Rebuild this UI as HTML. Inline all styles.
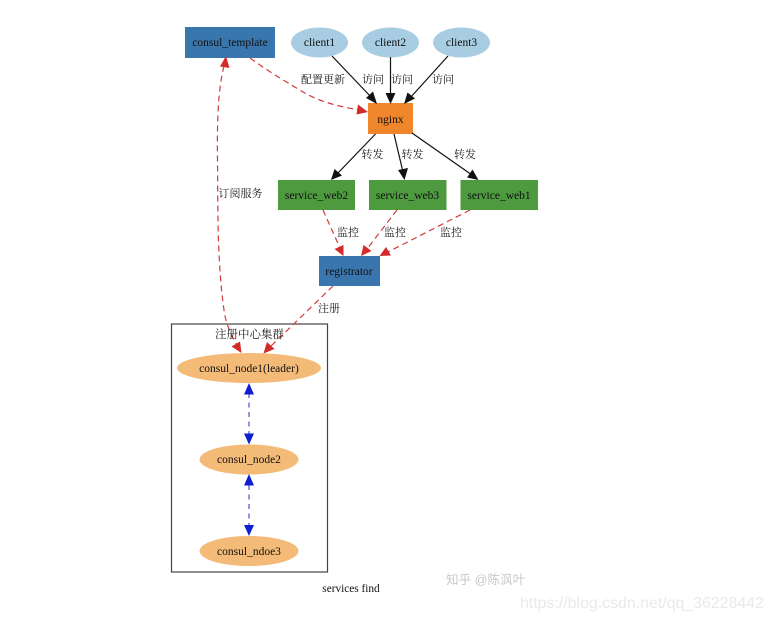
<!DOCTYPE html>
<html>
<head>
<meta charset="utf-8">
<style>
html,body{margin:0;padding:0;background:#fff;width:772px;height:621px;overflow:hidden}
svg{display:block;filter:blur(0.35px)}
.t{font-family:"Liberation Serif","Noto Serif CJK SC",serif;font-size:11.5px;fill:#111;text-anchor:middle}
.c{font-family:"Liberation Serif","Noto Serif CJK SC",serif;font-size:11px;fill:#1a1a1a;text-anchor:middle}
.k{fill:none;stroke:#111;stroke-width:1.2}
.r{fill:none;stroke:#d23a3a;stroke-width:1.2;stroke-dasharray:6 4}
.b{fill:none;stroke:#7a7ae0;stroke-width:1.6;stroke-dasharray:5 4.5}
</style>
</head>
<body>
<svg width="772" height="621" viewBox="0 0 772 621" xmlns="http://www.w3.org/2000/svg">
<rect width="772" height="621" fill="#fff"/>
<!-- cluster -->
<rect x="171.5" y="324" width="156" height="248" fill="none" stroke="#444" stroke-width="1.2"/>
<!-- nodes -->
<rect x="185" y="27" width="90" height="31" fill="#3a76ae"/>
<ellipse cx="319.5" cy="42.5" rx="28.5" ry="15" fill="#a8cde2"/>
<ellipse cx="390.5" cy="42.5" rx="28.5" ry="15" fill="#a8cde2"/>
<ellipse cx="461.5" cy="42.5" rx="28.5" ry="15" fill="#a8cde2"/>
<rect x="368" y="103" width="45" height="31" fill="#f0862c"/>
<rect x="278" y="180" width="77" height="30" fill="#4d9a3f"/>
<rect x="369" y="180" width="77.5" height="30" fill="#4d9a3f"/>
<rect x="460.5" y="180" width="77.5" height="30" fill="#4d9a3f"/>
<rect x="319" y="256" width="61" height="30" fill="#3a76ae"/>
<ellipse cx="249" cy="368" rx="72" ry="15" fill="#f4bb78"/>
<ellipse cx="249" cy="459.5" rx="49.5" ry="15" fill="#f4bb78"/>
<ellipse cx="249" cy="551" rx="49.5" ry="15" fill="#f4bb78"/>
<!-- black edges -->
<path class="k" d="M332 56L372 98"/><path d="M377 104L366 98L373 91.5Z" fill="#111"/>
<path class="k" d="M390.5 57V96"/><path d="M390.5 104L385.5 93H395.5Z" fill="#111"/>
<path class="k" d="M448 56L410 98"/><path d="M404 104L407.5 92.5L415 98.5Z" fill="#111"/>
<path class="k" d="M375.5 134L337 174"/><path d="M331 180L334.5 169L342 175.5Z" fill="#111"/>
<path class="k" d="M394 134L403 172"/><path d="M404.5 180L398 170L408 168Z" fill="#111"/>
<path class="k" d="M412 133L472 175"/><path d="M478.5 180L467 177.5L472.5 169.5Z" fill="#111"/>
<!-- red edges -->
<path class="r" d="M250 58C272 74 290 84 303 92C322 103 342 107 360 110"/><path d="M368 112L356.5 114.5L358 104.5Z" fill="#d32a2a"/>
<path class="r" d="M224 66C218 90 217 120 217.5 160C218 210 217 260 224 310C226 325 233 340 238 346"/>
<path d="M226 56L229.5 68L220 66.5Z" fill="#d32a2a"/>
<path d="M241.5 353L231.5 346.5L240 341.5Z" fill="#d32a2a"/>
<path class="r" d="M323 210L340 248"/><path d="M343.5 256L334.5 249L343.5 245Z" fill="#d32a2a"/>
<path class="r" d="M397 210L367 249"/><path d="M361 256L363.5 245L371.5 251Z" fill="#d32a2a"/>
<path class="r" d="M470 210L388 252"/><path d="M379.5 256L386 247L391 255.5Z" fill="#d32a2a"/>
<path class="r" d="M333 286L270 347"/><path d="M263.5 353.5L267 342L274.5 349Z" fill="#d32a2a"/>
<!-- blue edges -->
<path class="b" d="M249 393V434"/>
<path d="M249 383L254 394.5H244Z" fill="#0f1fd0"/><path d="M249 444.5L244 433.5H254Z" fill="#0f1fd0"/>
<path class="b" d="M249 485V526"/>
<path d="M249 474L254 485.5H244Z" fill="#0f1fd0"/><path d="M249 536L244 525H254Z" fill="#0f1fd0"/>
<!-- node labels -->
<text class="t" x="230" y="46">consul_template</text>
<text class="t" x="319.5" y="46">client1</text>
<text class="t" x="390.5" y="46">client2</text>
<text class="t" x="461.5" y="46">client3</text>
<text class="t" x="390.5" y="123">nginx</text>
<text class="t" x="316.5" y="199">service_web2</text>
<text class="t" x="407.5" y="199">service_web3</text>
<text class="t" x="499" y="199">service_web1</text>
<text class="t" x="349" y="275">registrator</text>
<text class="t" x="249" y="372">consul_node1(leader)</text>
<text class="t" x="249" y="463">consul_node2</text>
<text class="t" x="249" y="555">consul_ndoe3</text>
<!-- edge labels -->
<text class="c" x="323" y="83">配置更新</text>
<text class="c" x="373" y="83">访问</text>
<text class="c" x="402" y="83">访问</text>
<text class="c" x="443" y="83">访问</text>
<text class="c" x="372.5" y="158">转发</text>
<text class="c" x="412.5" y="158">转发</text>
<text class="c" x="465" y="158">转发</text>
<text class="c" x="240.5" y="197">订阅服务</text>
<text class="c" x="348" y="236">监控</text>
<text class="c" x="395" y="236">监控</text>
<text class="c" x="451" y="236">监控</text>
<text class="c" x="329" y="312">注册</text>
<text class="c" x="249.5" y="338" style="font-size:11.5px">注册中心集群</text>
<text class="t" x="351" y="592" style="font-size:11.3px">services find</text>
<!-- watermarks -->
<text x="446" y="584" style="font-family:'Liberation Sans','Noto Sans CJK SC',sans-serif;font-size:12.6px;fill:#c8c8c8">知乎 @陈沨叶</text>
<text x="520" y="608" style="font-family:'Liberation Sans',sans-serif;font-size:15.9px;fill:#e9e9e9">https://blog.csdn.net/qq_36228442</text>
</svg>
</body>
</html>
